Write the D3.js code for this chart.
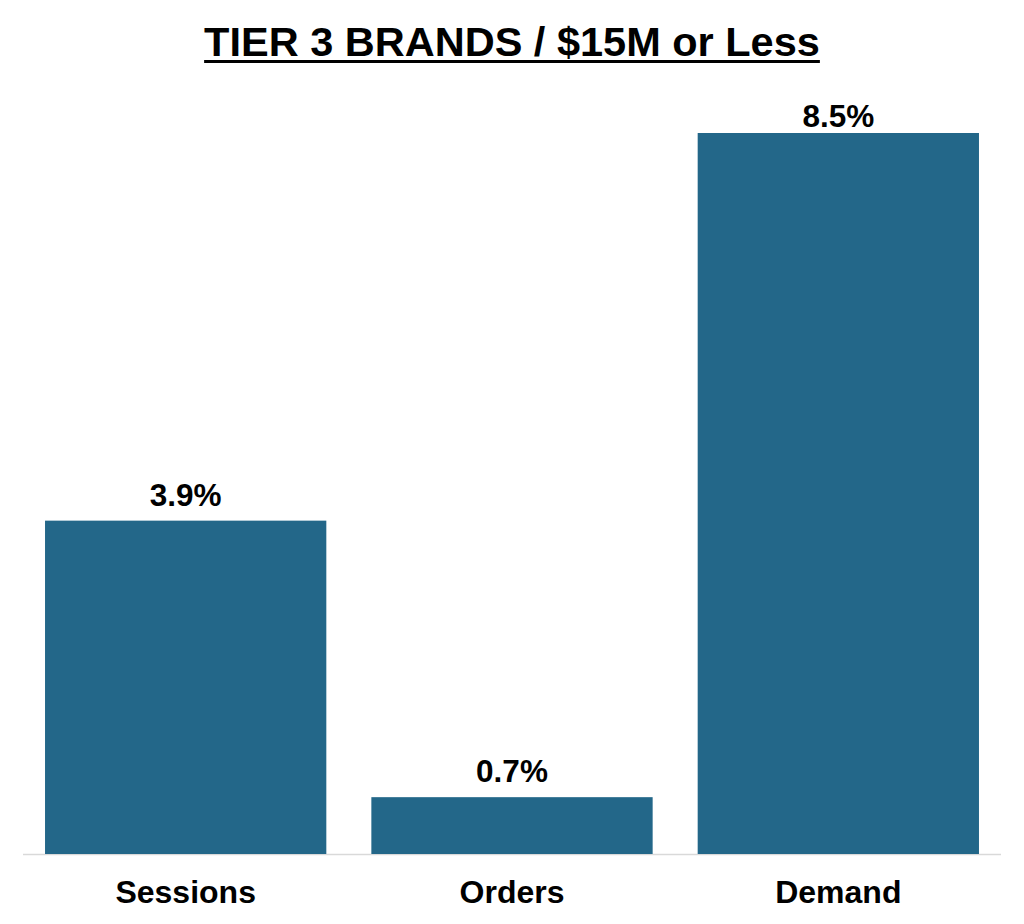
<!DOCTYPE html>
<html>
<head>
<meta charset="utf-8">
<script src="https://cdn.jsdelivr.net/npm/d3@7"></script>
<style>
  body { margin: 0; background: #fff; }
  text { font-family: "Liberation Sans", Arial, sans-serif; font-weight: bold; fill: #000; }
</style>
</head>
<body>
<div id="chart-container"></div>
<script>
const width = 1024;
const height = 924;

// data (bar heights, labels shown to one decimal)
const categories = ["Sessions", "Orders", "Demand"];
const values = [3.93, 0.67, 8.5];
const title = "TIER 3 BRANDS / $15M or Less";

const svg = d3.select("div#chart-container").append("svg")
    .attr("width", width)
    .attr("height", height);

const xScale = d3.scaleBand()
    .domain(categories)
    .range([23, 1001])
    .paddingInner(0.138)
    .paddingOuter(0.0675);

const yScale = d3.scaleLinear()
    .domain([0, 8.5])
    .range([854, 133]);

// title
const t = svg.append("text")
    .attr("x", 512)
    .attr("y", 56)
    .attr("text-anchor", "middle")
    .style("font-size", "41.5px")
    .text(title);
const bb = t.node().getBBox();
svg.append("line")
    .attr("x1", bb.x).attr("x2", bb.x + bb.width)
    .attr("y1", 61.5).attr("y2", 61.5)
    .attr("stroke", "#000")
    .attr("stroke-width", 3);

// baseline
svg.append("line")
    .attr("x1", 23).attr("x2", 1001)
    .attr("y1", yScale(0) + 0.5).attr("y2", yScale(0) + 0.5)
    .attr("stroke", "#d9d9d9")
    .attr("stroke-width", 1.5);

// bars
svg.append("g").selectAll("rect")
    .data(categories)
    .enter()
    .append("rect")
    .attr("x", d => xScale(d))
    .attr("width", xScale.bandwidth())
    .attr("y", (d, i) => yScale(values[i]))
    .attr("height", (d, i) => yScale(0) - yScale(values[i]))
    .attr("fill", "#236789");

// value labels (kept inside the plot top)
svg.append("g").selectAll("text")
    .data(categories)
    .enter()
    .append("text")
    .attr("x", d => xScale(d) + xScale.bandwidth() / 2)
    .attr("y", (d, i) => Math.max(yScale(values[i]) - 15, 127))
    .attr("text-anchor", "middle")
    .style("font-size", "31.5px")
    .text((d, i) => values[i].toFixed(1) + "%");

// category axis
const xaxis = d3.axisBottom(xScale).tickSize(0).tickPadding(0);
const ax = svg.append("g")
    .attr("transform", "translate(0,880)")
    .call(xaxis);
ax.select(".domain").remove();
ax.selectAll("text")
    .attr("dy", "0.72em")
    .attr("y", 0)
    .style("font-size", "32px")
    .style("font-family", "Liberation Sans, Arial, sans-serif")
    .style("font-weight", "bold")
    .attr("fill", "#000");
</script>
</body>
</html>
